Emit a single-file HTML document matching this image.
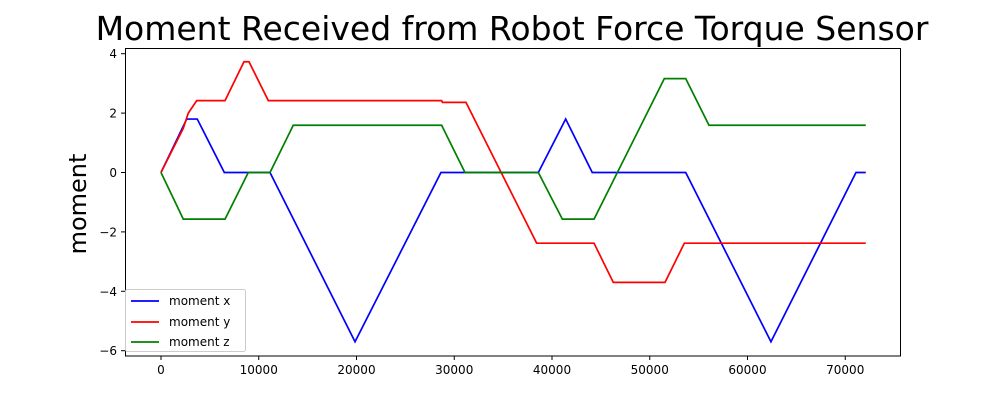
<!DOCTYPE html>
<html><head><meta charset="utf-8"><style>
body{margin:0;background:#fff;}
svg{display:block;font-family:"DejaVu Sans","Liberation Sans",sans-serif;}
</style></head><body>
<svg id="chart" width="1000" height="400">
<rect width="1000" height="400" fill="#fff"/>
<text x="512" y="40" font-size="33" text-anchor="middle" fill="#000">Moment Received from Robot Force Torque Sensor</text>
<text transform="translate(86,204) rotate(-90)" font-size="24" text-anchor="middle">moment</text>
<g id="series"></g>
<g id="axes"></g>
<rect x="125.5" y="48.5" width="775" height="307.5" fill="none" stroke="#000" stroke-width="1"/>
<g>
<rect x="125.5" y="289.5" width="120" height="62" rx="2" fill="#fff" fill-opacity="0.8" stroke="#ccc"/>
<g><line x1="131" y1="301" x2="159" y2="301" stroke="blue" stroke-width="1.7"/><text x="169" y="305" font-size="12">moment x</text></g>
<g><line x1="131" y1="322" x2="159" y2="322" stroke="red" stroke-width="1.7"/><text x="169" y="326" font-size="12">moment y</text></g>
<g><line x1="131" y1="342" x2="159" y2="342" stroke="green" stroke-width="1.7"/><text x="169" y="346" font-size="12">moment z</text></g>
</g>
</svg>
<script>
const xTicks=[0,10000,20000,30000,40000,50000,60000,70000];
const yTicks=[-6,-4,-2,0,2,4];
const xT=[0,2630,3710,6480,11150,19850,28640,38600,41400,44120,53680,62400,71100,72100];
const xV=[0,1.8,1.8,0,0,-5.7,0,0,1.8,0,0,-5.7,0,0];
const yT=[0,2280,2790,3650,6550,8490,9000,10980,28710,28800,31200,38430,44300,46270,51560,53540,72100];
const yV=[0,1.49,2.0,2.42,2.42,3.73,3.73,2.42,2.42,2.36,2.36,-2.38,-2.38,-3.70,-3.70,-2.38,-2.38];
const zT=[0,2280,6550,8930,11150,13530,28710,31100,38600,41060,44300,51490,53680,56060,72100];
const zV=[0,-1.57,-1.57,0,0,1.59,1.59,0,0,-1.57,-1.57,3.16,3.16,1.59,1.59];
const NS='http://www.w3.org/2000/svg';
const sx=v=>161+v*0.009775;
const sy=v=>172.5-v*29.7;
const ser=document.getElementById('series'), ax=document.getElementById('axes');
function line(ts,vs,color,name){
  const p=document.createElementNS(NS,'polyline');
  p.setAttribute('points',ts.map((t,i)=>sx(t)+','+sy(vs[i])).join(' '));
  p.setAttribute('fill','none');p.setAttribute('stroke',color);p.setAttribute('stroke-width','1.7');
  
  
  ser.appendChild(p);
}
line(xT,xV,'blue','moment-x-line');
line(yT,yV,'red','moment-y-line');
line(zT,zV,'green','moment-z-line');
xTicks.forEach(t=>{
  const g=document.createElementNS(NS,'g');
  
  
  const x=sx(t);
  g.innerHTML=`<line x1="${x}" y1="356" x2="${x}" y2="360" stroke="#000"/><text x="${x}" y="374" font-size="12" text-anchor="middle">${t}</text>`;
  ax.appendChild(g);
});
yTicks.forEach(t=>{
  const g=document.createElementNS(NS,'g');
  
  
  const y=sy(t);
  g.innerHTML=`<line x1="121" y1="${y}" x2="125.5" y2="${y}" stroke="#000"/><text x="117" y="${y+4.5}" font-size="12" text-anchor="end">${t<0?'\u2212'+(-t):t}</text>`;
  ax.appendChild(g);
});
</script>
</body></html>
